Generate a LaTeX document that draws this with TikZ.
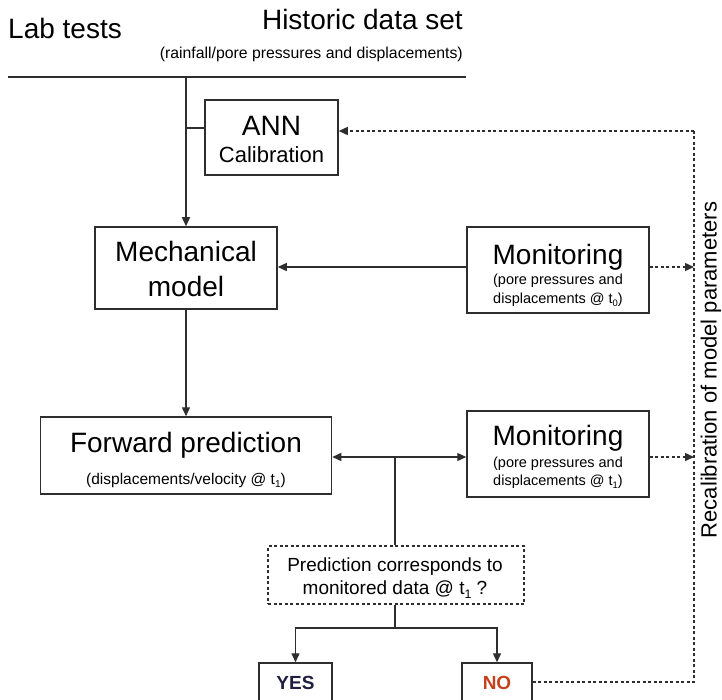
\documentclass[tikz,border=0pt]{standalone}
\usepackage{fontspec}
\setmainfont{Liberation Sans}
\usetikzlibrary{arrows.meta}
\newcommand\subtx[1]{\raisebox{-0.22em}{\scalebox{0.65}{#1}}}
\definecolor{ln}{HTML}{2E2E2E}
\definecolor{yescol}{HTML}{1F1F40}
\definecolor{nocol}{HTML}{C4421C}
\tikzset{
  boxn/.style={draw=ln, line width=1.5pt, rectangle, inner sep=0pt},
  dboxn/.style={draw=ln, line width=1.3pt, rectangle, inner sep=0pt, dash pattern=on 3pt off 2.5pt},
  big/.style={font=\fontsize{28}{30}\selectfont, inner sep=0pt, anchor=base},
  mid/.style={font=\fontsize{22}{24}\selectfont, inner sep=0pt, anchor=base},
  sml/.style={font=\fontsize{14.5}{16}\selectfont, inner sep=0pt, anchor=base},
  q/.style={font=\fontsize{19}{21}\selectfont, inner sep=0pt, anchor=base},
  conn/.style={draw=ln, line width=1.4pt},
  arr/.style={conn, -{Triangle[length=9pt,width=8pt]}},
  darr/.style={conn, dash pattern=on 3pt off 2.5pt, -{Triangle[length=9pt,width=8pt]}},
  dconn/.style={conn, dash pattern=on 3pt off 2.5pt},
}
\begin{document}
\begin{tikzpicture}[x=1pt,y=-1pt]
\useasboundingbox (0,0) rectangle (722,700);
\clip (0,0) rectangle (722,700);
% header
\node[big, anchor=base west] (lab) at (8,39) {Lab tests};
\node[big, anchor=base east] (hist) at (463,30) {Historic data set};
\node[font=\fontsize{15.8}{17}\selectfont, inner sep=0pt, anchor=base east] (histsub) at (463,59) {(rainfall/pore pressures and displacements)};
\coordinate (hl) at (8,77);
\coordinate (hr) at (466,77);
\coordinate (top) at (186,77);
\draw[draw=ln, line width=2.2pt] (hl) -- (hr);
% boxes
\node[boxn, minimum width=133pt, minimum height=75pt] (ann) at (271.5,137.5) {};
\node[mid] (annA) at (271.5,136) {\fontsize{28}{30}\selectfont ANN};
\node[mid] (annC) at (271.5,163) {Calibration};

\node[boxn, minimum width=182pt, minimum height=82pt] (mech) at (186,268) {};
\node[big] (mechA) at (186,262) {Mechanical};
\node[big] (mechB) at (186,297) {model};

\node[boxn, minimum width=182pt, minimum height=86pt] (mon1) at (558,270) {};
\node[big] (mon1A) at (558,265) {Monitoring};
\node[sml] (mon1B) at (558,284) {(pore pressures and};
\node[sml] (mon1C) at (558,303) {displacements @ t\subtx{0})};

\node[boxn, minimum width=291pt, minimum height=77pt] (fwd) at (186,455.5) {};
\node[big] (fwdA) at (186,452) {Forward prediction};
\node[font=\fontsize{15.5}{17}\selectfont, inner sep=0pt, anchor=base] (fwdB) at (186,484) {(displacements/velocity @ t\subtx{1})};

\node[boxn, minimum width=182pt, minimum height=86pt] (mon2) at (558,454) {};
\node[big] (mon2A) at (558,445) {Monitoring};
\node[sml] (mon2B) at (558,467) {(pore pressures and};
\node[sml] (mon2C) at (558,485) {displacements @ t\subtx{1})};

\node[dboxn, minimum width=256pt, minimum height=58pt] (dec) at (396,575) {};
\node[q] (decA) at (395,571) {Prediction corresponds to};
\node[q] (decB) at (395,594) {monitored data @ t\subtx{1} ?};

\node[boxn, minimum width=73pt, minimum height=44pt] (yes) at (295.5,685) {};
\node[q, font=\fontsize{19}{21}\selectfont\bfseries, text=yescol] (yesT) at (295.5,689) {YES};
\node[boxn, minimum width=70pt, minimum height=44pt] (no) at (497,685) {};
\node[q, font=\fontsize{19}{21}\selectfont\bfseries, text=nocol] (noT) at (497,689) {NO};

\node[font=\fontsize{22}{24}\selectfont, inner sep=0pt, rotate=90] (recal) at (711,370) {Recalibration of model parameters};

% connectors
\draw[arr] (top) -- (mech.north);
\draw[conn] (186,128) -- (ann.west |- 0,128);
\draw[arr] (mech.south) -- (fwd.north);
\draw[arr] (mon1.west |- 0,267) -- (mech.east |- 0,267);
\coordinate (junc) at (395,457);
\draw[conn, {Triangle[length=9pt,width=8pt]}-{Triangle[length=9pt,width=8pt]}] (fwd.east |- junc) -- (mon2.west |- junc);
\draw[conn] (junc) -- (junc |- dec.north);
\coordinate (split) at (395,628);
\draw[conn] (dec.south -| split) -- (split);
\draw[arr] (split) -| (yes.north);
\draw[arr] (split) -| (no.north);
% dashed feedback
\coordinate (rc1) at (694,267);
\coordinate (rc2) at (694,457);
\coordinate (rtop) at (694,131);
\coordinate (rbot) at (694,682);
\draw[darr] (mon1.east |- rc1) -- (rc1);
\draw[darr] (mon2.east |- rc2) -- (rc2);
\draw[dconn] (no.east |- rbot) -- (rbot) -- (rtop);
\draw[darr] (rtop) -- (ann.east |- rtop);
\end{tikzpicture}
\end{document}
